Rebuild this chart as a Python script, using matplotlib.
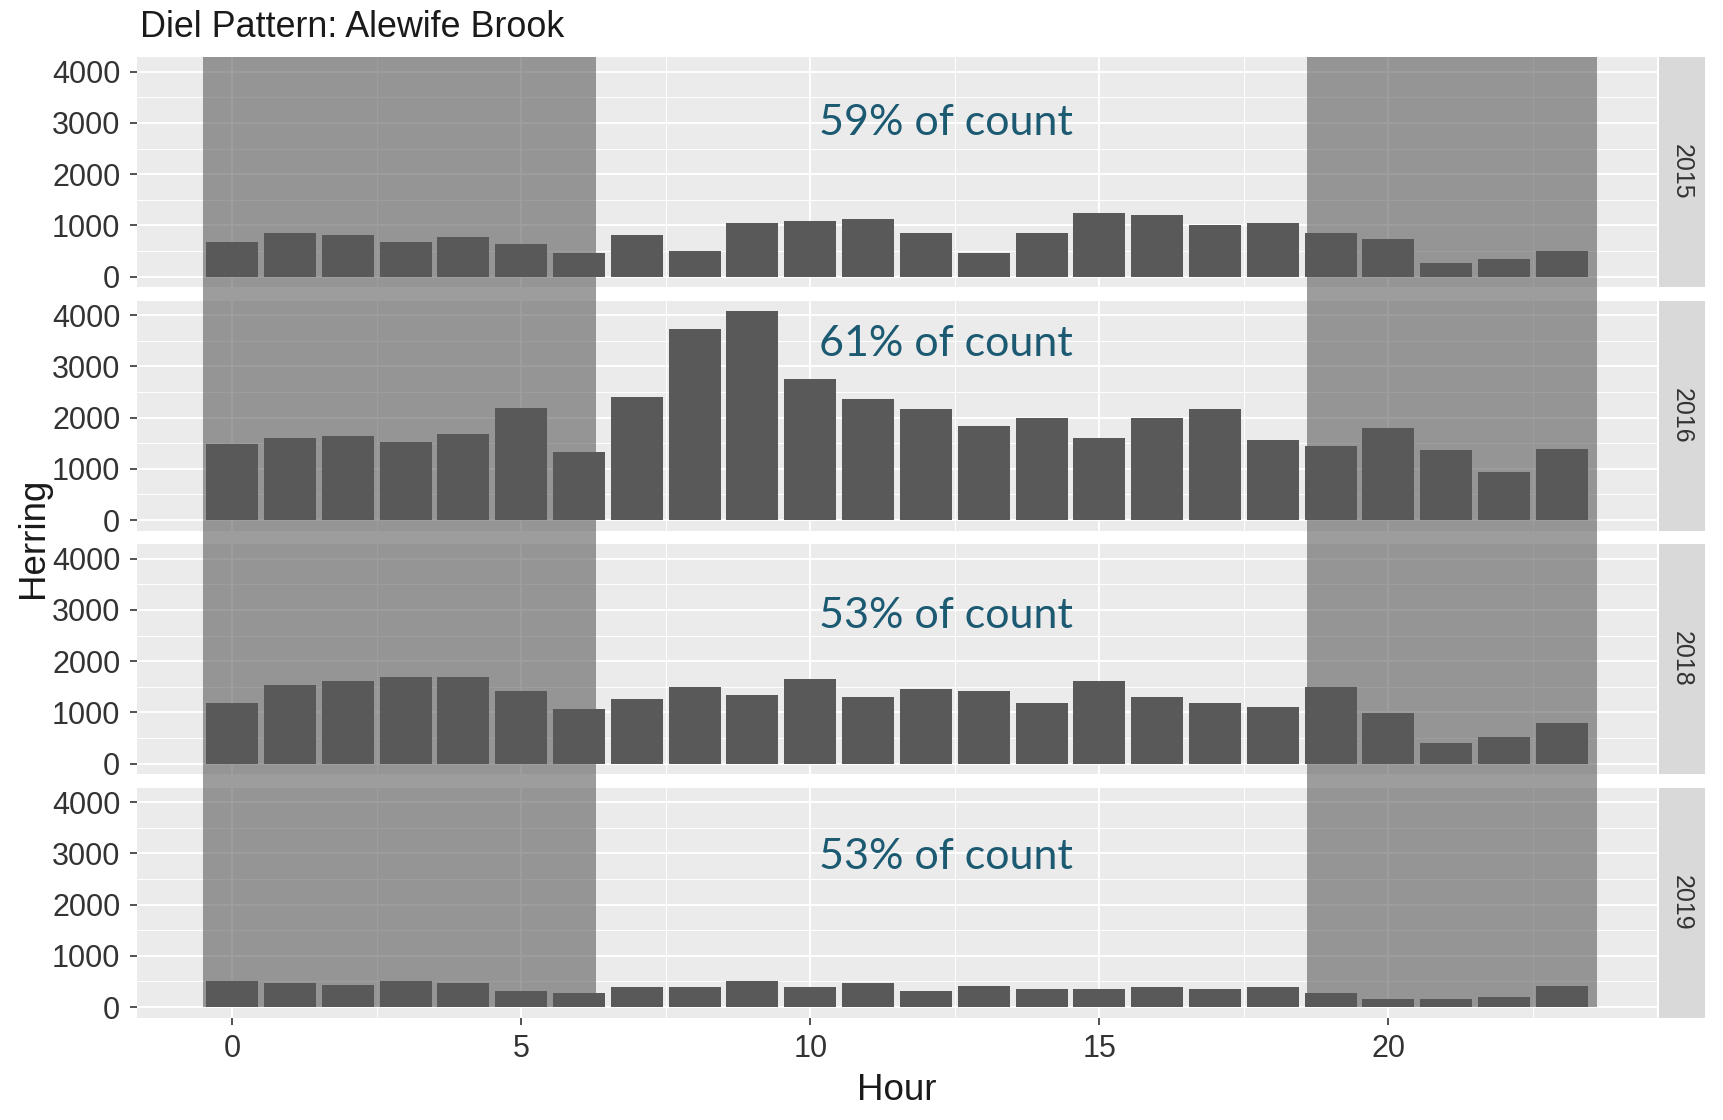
import matplotlib
matplotlib.use('Agg')
import matplotlib.pyplot as plt
from matplotlib.patches import Rectangle
from matplotlib import transforms

# hourly herring counts, one list per season
hours = list(range(24))
years = ['2015', '2016', '2018', '2019']
herring_2015 = [666, 858, 819, 666, 781, 627, 461, 818, 505, 1045, 1084, 1123,
                851, 461, 851, 1240, 1201, 1000, 1045, 845, 730, 269, 346, 499]
herring_2016 = [1478, 1595, 1634, 1517, 1673, 2185, 1323, 2412, 3734, 4084, 2762, 2373,
                2178, 1828, 1984, 1595, 1984, 2178, 1556, 1446, 1796, 1361, 934, 1394]
herring_2018 = [1180, 1530, 1608, 1686, 1686, 1413, 1063, 1258, 1491, 1336, 1647, 1297,
                1452, 1413, 1180, 1608, 1297, 1180, 1102, 1491, 985, 402, 519, 791]
herring_2019 = [510, 471, 433, 510, 471, 318, 280, 395, 395, 510, 395, 471,
                315, 420, 344, 344, 382, 344, 382, 268, 153, 153, 191, 420]
share_labels = ['59% of count', '61% of count', '53% of count', '53% of count']

# night hours (before sunrise / after sunset)
night_spans = [(-0.5, 6.3), (18.6, 23.6)]

counts = [herring_2015, herring_2016, herring_2018, herring_2019]
label_y = [2760, 3210, 2640, 2690]

plt.rcParams['font.family'] = ['Liberation Sans', 'DejaVu Sans']

W, H = 1723, 1120
fig = plt.figure(figsize=(W / 100, H / 100), dpi=100)

# shared scales, ggplot-style 5% padding
ymax = max(max(c) for c in counts)
y_lo, y_hi = -0.05 * ymax, 1.05 * ymax
x_lo, x_hi = -0.45 - 0.05 * 23.9, 23.45 + 0.05 * 23.9

left, width = 137 / W, 1520 / W
strip_left, strip_w = 1659 / W, 46 / W
top_px, panel_px, gap_px = 57, 230, 13.5

night_col = '#5c5c5c'
axes = []
for i, (year, vals) in enumerate(zip(years, counts)):
    top = 1 - (top_px + i * (panel_px + gap_px)) / H
    bottom = top - panel_px / H
    ax = fig.add_axes([left, bottom, width, panel_px / H])
    ax.set_facecolor('#EBEBEB')
    ax.set_xlim(x_lo, x_hi)
    ax.set_ylim(y_lo, y_hi)
    ax.set_xticks([0, 5, 10, 15, 20])
    ax.set_xticks([2.5, 7.5, 12.5, 17.5, 22.5], minor=True)
    ax.set_yticks(range(0, 4001, 1000))
    ax.set_yticks(range(500, 4001, 1000), minor=True)
    ax.grid(which='major', color='white', lw=1.4)
    ax.grid(which='minor', color='white', lw=0.7)
    ax.set_axisbelow(True)
    for s in ax.spines.values():
        s.set_visible(False)
    ax.tick_params(which='minor', length=0)
    ax.tick_params(which='major', length=5, width=1.2, color='#333333',
                   labelsize=22, labelcolor='#333333', pad=7)
    if i < 3:
        ax.tick_params(axis='x', which='major', length=0, labelbottom=False)

    # night shading inside the panel
    base = 0 if i == 3 else y_lo
    for x0, x1 in night_spans:
        ax.add_patch(Rectangle((x0, base), x1 - x0, y_hi - base, facecolor=night_col,
                               alpha=0.6, lw=0, zorder=1))

    ax.bar(hours, vals, width=0.9, color='#595959', zorder=2)
    ax.text(12.35, label_y[i], share_labels[i], ha='center', va='baseline',
            fontsize=31, color='#1c5a72', family=['Lato', 'DejaVu Sans'], zorder=3)

    # facet strip
    sax = fig.add_axes([strip_left, bottom, strip_w, panel_px / H])
    sax.set_facecolor('#D9D9D9')
    sax.set_xticks([])
    sax.set_yticks([])
    for s in sax.spines.values():
        s.set_visible(False)
    sax.text(0.5, 0.5, year, rotation=-90, ha='center', va='center', fontsize=18,
             color='#333333', transform=sax.transAxes)
    axes.append(ax)

# carry the night shading through the gaps between panels
tr = transforms.blended_transform_factory(axes[0].transData, fig.transFigure)
for i in range(3):
    gap_top = 1 - (top_px + i * (panel_px + gap_px) + panel_px) / H
    for x0, x1 in night_spans:
        fig.add_artist(Rectangle((x0, gap_top - gap_px / H), x1 - x0, gap_px / H,
                                 transform=tr, facecolor=night_col, alpha=0.6, lw=0))

fig.text(140 / W, 1 - 37 / H, 'Diel Pattern: Alewife Brook', fontsize=25.8,
         color='#1A1A1A', ha='left', va='baseline')
fig.text((137 + 1657) / 2 / W, 1 - 1090 / H, 'Hour', fontsize=26.5, color='#1A1A1A',
         ha='center', va='center')
fig.text(34 / W, 1 - 538 / H, 'Herring', fontsize=26.5, color='#1A1A1A', rotation=90,
         ha='center', va='center')

fig.savefig('out.png', dpi=100)
